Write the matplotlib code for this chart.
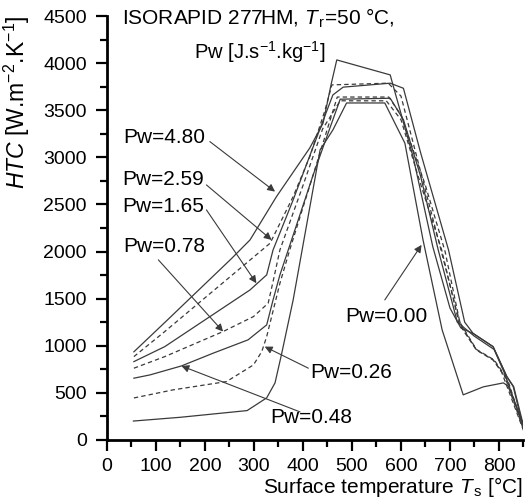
import matplotlib.pyplot as plt
from matplotlib.axes import Axes
from matplotlib.figure import Figure
from matplotlib.ticker import MultipleLocator

# surface temperature [°C] and HTC [W.m-2.K-1]
T_480 = [55, 120, 255, 292, 346, 414, 441, 458, 469, 578, 590, 625, 665, 700, 722, 747, 788, 816, 830, 850]
H_480 = [935, 1256, 1929, 2123, 2583, 3100, 3362, 3787, 4034, 3875, 3650, 3000, 2050, 1400, 1190, 1130, 990, 672, 566, 150]

T_259 = [55, 118, 203, 333, 380, 414, 445, 459, 574, 600, 630, 680, 712, 724, 754, 788, 805, 819, 850]
H_259 = [884, 1150, 1521, 2088, 2583, 3008, 3500, 3769, 3787, 3650, 3050, 2050, 1400, 1186, 955, 849, 725, 619, 120]

T_165 = [55, 118, 292, 326, 339, 380, 420, 461, 482, 578, 605, 640, 697, 730, 747, 788, 816, 829, 850]
H_165 = [831, 990, 1592, 1752, 2017, 2548, 3100, 3662, 3745, 3787, 3733, 3050, 2017, 1250, 1132, 990, 672, 566, 120]

T_078 = [55, 118, 237, 299, 329, 339, 353, 400, 440, 476, 570, 600, 635, 683, 718, 754, 788, 805, 850]
H_078 = [761, 884, 1150, 1309, 1451, 1681, 2017, 2700, 3300, 3600, 3600, 3400, 2800, 2017, 1250, 955, 849, 725, 100]

T_048 = [55, 88, 152, 217, 288, 326, 339, 353, 370, 420, 476, 578, 605, 640, 676, 715, 750, 790, 812, 850]
H_048 = [655, 690, 785, 921, 1062, 1221, 1486, 1752, 2017, 2800, 3617, 3627, 3400, 2800, 2017, 1250, 1100, 960, 700, 140]

T_026 = [55, 135, 244, 299, 316, 326, 353, 373, 420, 470, 575, 600, 650, 690, 720, 754, 790, 810, 850]
H_026 = [445, 531, 619, 796, 938, 1097, 1663, 2017, 2800, 3640, 3640, 3450, 2700, 2000, 1250, 960, 850, 700, 110]

T_000 = [54, 150, 286, 326, 343, 356, 380, 435, 461, 489, 567, 608, 645, 684, 727, 768, 809, 819, 850]
H_000 = [200, 240, 311, 446, 605, 902, 1486, 3079, 3290, 3577, 3577, 3150, 2123, 1168, 478, 563, 605, 570, 160]

PW_LABELS = ["4.80", "2.59", "1.65", "0.78", "0.48", "0.26", "0.00"]

LINE_COLOR = "#3a3a3a"

# label text position, arrow start, arrow tip (data coords)
ANNOTATIONS = {
    "4.80": ((33, 3206), (210, 3167), (343, 2636)),
    "2.59": ((32, 2760), (203, 2707), (336, 2123)),
    "1.65": ((32, 2477), (203, 2442), (305, 1663)),
    "0.78": ((33, 2052), (105, 1911), (237, 1150)),
    "0.00": ((486, 1309), (567, 1486), (642, 2070)),
    "0.26": ((414, 711), (411, 761), (322, 990)),
    "0.48": ((333, 237), (394, 297), (152, 785)),
}


def create_graph() -> None:
    plt.rcParams['font.family'] = ['Liberation Sans', 'DejaVu Sans']
    plt.rcParams['mathtext.fontset'] = 'custom'
    plt.rcParams['mathtext.it'] = 'Liberation Sans:italic'
    plt.rcParams['mathtext.rm'] = 'Liberation Sans'

    fig = plt.figure(figsize=(5.32, 5.01), dpi=100)
    ax = fig.add_axes([0.201, 0.122, 0.783, 0.846])

    plot_data(ax)
    add_annotations(ax)
    style_axes(fig, ax)
    fig.savefig("out.png", dpi=100)


def plot_data(ax: Axes) -> None:
    curves = [
        (T_480, H_480, "-"),
        (T_259, H_259, "--"),
        (T_165, H_165, "-"),
        (T_078, H_078, "--"),
        (T_048, H_048, "-"),
        (T_026, H_026, "--"),
        (T_000, H_000, "-"),
    ]
    for t, h, style in curves:
        line, = ax.plot(t, h, style, color=LINE_COLOR, lw=0.9)
        if style == "--":
            line.set_dashes((3.5, 2.5))


def add_annotations(ax: Axes) -> None:
    for pw in PW_LABELS:
        text_pos, start, tip = ANNOTATIONS[pw]
        ax.text(text_pos[0], text_pos[1], f"Pw={pw}", fontsize=15,
                ha='left', va='center')
        ax.annotate('', xy=tip, xytext=start,
                    arrowprops=dict(arrowstyle='-|>', color=LINE_COLOR, lw=0.8,
                                    mutation_scale=11, shrinkA=0, shrinkB=0))

    ax.text(31, 4480, r'ISORAPID 277HM, $T_{\,\mathrm{r}}$=50 °C,', fontsize=15,
            ha='left', va='center')
    ax.text(312, 4119, r'Pw [J.s$^{-1}$.kg$^{-1}$]', fontsize=14.5,
            ha='center', va='center')


def style_axes(fig: Figure, ax: Axes) -> None:
    ax.set_xlim(0, 850)
    ax.set_ylim(0, 4500)
    ax.xaxis.set_major_locator(MultipleLocator(100))
    ax.xaxis.set_minor_locator(MultipleLocator(50))
    ax.yaxis.set_major_locator(MultipleLocator(500))
    ax.yaxis.set_minor_locator(MultipleLocator(250))

    for side in ['top', 'right']:
        ax.spines[side].set_visible(False)
    for side in ['bottom', 'left']:
        ax.spines[side].set_linewidth(2)

    ax.tick_params(which='major', direction='out', length=8, width=1.6,
                   labelsize=14)
    ax.tick_params(axis='y', which='major', pad=6.5)
    ax.tick_params(axis='x', which='major', pad=5)
    ax.tick_params(which='minor', direction='out', length=5, width=1.6)

    ax.set_xlabel(r'Surface temperature $T_{\,\mathrm{s}}$ [°C]', fontsize=15,
                  loc='right', labelpad=0)
    ax.set_ylabel(r'$HTC$ [W.m$^{-2}$.K$^{-1}$]', fontsize=16.5, loc='top',
                  labelpad=8)


create_graph()
